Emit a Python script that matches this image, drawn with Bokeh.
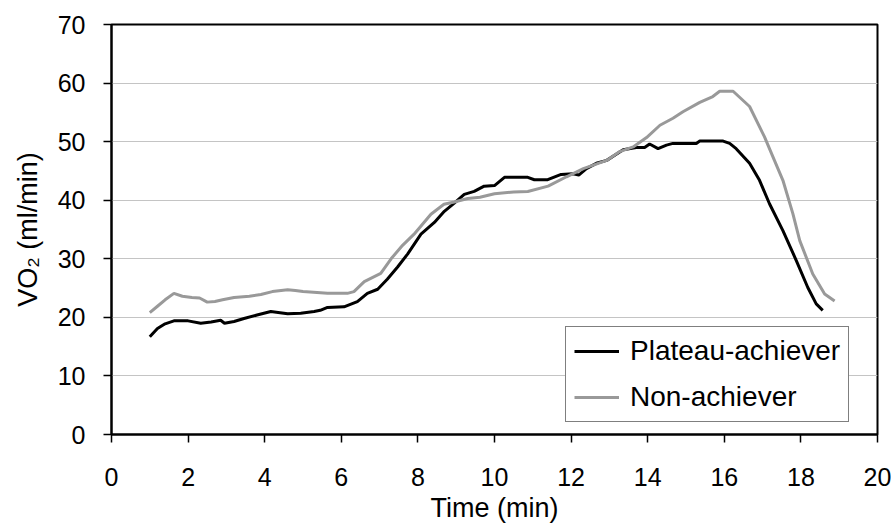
from bokeh.plotting import figure
from bokeh.models import Range1d, FixedTicker
from bokeh.embed import file_html
from bokeh.resources import INLINE

# Plateau-achiever (black)
plateau_time = [1.0, 1.2, 1.4, 1.63, 2.0, 2.33, 2.6, 2.85, 2.95, 3.2, 3.46, 3.8, 4.16, 4.4, 4.6,
                4.94, 5.29, 5.45, 5.64, 6.07, 6.42, 6.68, 6.95, 7.2, 7.47, 7.73, 8.08, 8.43, 8.69,
                8.95, 9.21, 9.47, 9.73, 10.0, 10.26, 10.87, 11.04, 11.39, 11.74, 12.05, 12.2, 12.4,
                12.66, 12.93, 13.36, 13.7, 13.92, 14.05, 14.27, 14.49, 14.66, 15.27, 15.36, 15.97,
                16.14, 16.31, 16.66, 16.92, 17.18, 17.53, 17.88, 18.18, 18.4, 18.57]
plateau_vo2 = [16.7, 18.1, 18.9, 19.4, 19.4, 19.0, 19.2, 19.5, 19.0, 19.3, 19.8, 20.4, 21.0, 20.8, 20.6,
               20.7, 21.0, 21.2, 21.7, 21.8, 22.7, 24.1, 24.8, 26.5, 28.6, 30.8, 34.2, 36.2, 38.1,
               39.5, 41.0, 41.5, 42.4, 42.5, 43.9, 43.9, 43.5, 43.5, 44.4, 44.5, 44.3, 45.4,
               46.3, 46.8, 48.6, 49.0, 49.0, 49.6, 48.8, 49.4, 49.7, 49.7, 50.1, 50.1,
               49.7, 48.8, 46.3, 43.4, 39.4, 34.8, 29.7, 25.1, 22.3, 21.2]

# Non-achiever (grey)
non_time = [1.0, 1.2, 1.4, 1.63, 1.85, 2.1, 2.3, 2.5, 2.7, 2.9, 3.2, 3.6, 3.9, 4.2, 4.6, 4.8, 5.0,
            5.64, 6.16, 6.33, 6.6, 7.03, 7.3, 7.6, 7.9, 8.34, 8.68, 8.95, 9.3, 9.62, 10.0, 10.5,
            10.87, 11.4, 11.88, 12.32, 12.93, 13.27, 13.62, 13.97, 14.32, 14.66, 14.92, 15.36,
            15.7, 15.88, 16.23, 16.66, 17.05, 17.27, 17.53, 17.79, 17.97, 18.31, 18.62, 18.88]
non_vo2 = [20.8, 21.9, 23.0, 24.1, 23.6, 23.4, 23.3, 22.6, 22.7, 23.0, 23.4, 23.6, 23.9, 24.4, 24.7,
           24.6, 24.4, 24.1, 24.1, 24.4, 26.1, 27.5, 30.0, 32.3, 34.2, 37.6, 39.3, 39.7, 40.3, 40.5,
           41.1, 41.4, 41.5, 42.4, 44.0, 45.4, 46.8, 48.3, 49.1, 50.7, 52.8, 54.0, 55.1, 56.7,
           57.7, 58.6, 58.6, 56.0, 50.8, 47.4, 43.4, 37.7, 33.1, 27.4, 24.0, 22.8]

x_ticks = [0, 2, 4, 6, 8, 10, 12, 14, 16, 18, 20]
y_ticks = [0, 10, 20, 30, 40, 50, 60, 70]

FONT = "Liberation Sans"

p = figure(width=891, height=531, output_backend="svg", toolbar_location=None,
           x_range=Range1d(0, 20), y_range=Range1d(0, 70),
           min_border_left=111, min_border_right=14, min_border_top=24, min_border_bottom=97,
           background_fill_color="white", border_fill_color="white")

p.outline_line_color = "black"
p.outline_line_width = 2

p.xgrid.grid_line_color = None
p.ygrid.grid_line_color = "#c4c4c4"
p.ygrid.grid_line_width = 1

for ax in (p.xaxis[0], p.yaxis[0]):
    ax.axis_line_color = "black"
    ax.axis_line_width = 2
    ax.major_tick_line_color = "black"
    ax.major_tick_line_width = 1.5
    ax.major_tick_out = 8
    ax.major_tick_in = 0
    ax.minor_tick_line_color = None
    ax.major_label_text_font = FONT
    ax.major_label_text_font_size = "25px"
    ax.major_label_text_color = "black"
    ax.axis_label_text_font = FONT
    ax.axis_label_text_font_style = "normal"
    ax.axis_label_text_color = "black"

p.xaxis.ticker = FixedTicker(ticks=x_ticks)
p.yaxis.ticker = FixedTicker(ticks=y_ticks)
p.xaxis.axis_label = "Time (min)"
p.yaxis.axis_label = "VO\u2082 (ml/min)"
p.xaxis.axis_label_text_font_size = "27px"
p.yaxis.axis_label_text_font_size = "27px"
p.xaxis.major_label_standoff = 25
p.xaxis.axis_label_standoff = 4
p.yaxis.major_label_standoff = 18
p.yaxis.axis_label_standoff = 12

p.line(plateau_time, plateau_vo2, line_color="black", line_width=3, legend_label="Plateau-achiever")
p.line(non_time, non_vo2, line_color="#999999", line_width=3, legend_label="Non-achiever")

lg = p.legend[0]
lg.location = (454, 12)
lg.border_line_color = "black"
lg.border_line_width = 1.2
lg.background_fill_color = "white"
lg.background_fill_alpha = 1
lg.label_text_font = FONT
lg.label_text_font_size = "28px"
lg.label_text_color = "black"
lg.glyph_width = 45
lg.glyph_height = 20
lg.label_height = 30
lg.label_standoff = 11
lg.spacing = 14
lg.padding = 8
lg.margin = 0

open("out.html", "w").write(file_html(p, INLINE))
